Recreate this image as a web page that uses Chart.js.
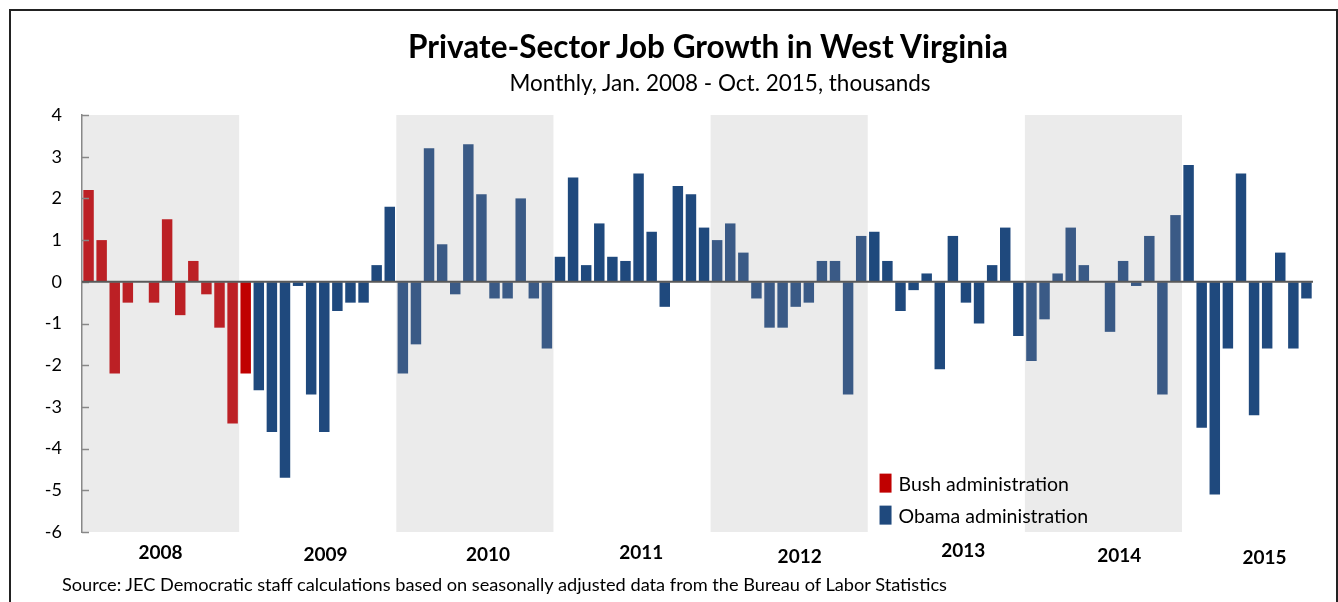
<!DOCTYPE html>
<html>
<head>
<meta charset="utf-8">
<script src="https://cdn.jsdelivr.net/npm/chart.js@4"></script>
<style>
  body { margin: 0; background: #fff; }
  #wrap { position: relative; width: 1338px; height: 602px; overflow: hidden; font-family: Lato, sans-serif; color: #000; }
  #frame { position: absolute; left: 9px; top: 9px; width: 1325px; height: 620px; border: 2px solid #222; }
  canvas { position: absolute; left: 0; top: 0; }
  .txt { position: absolute; white-space: nowrap; }
  #title { left: 308px; width: 800px; top: 27px; text-align: center; font-weight: bold; font-size: 31.5px; }
  #subtitle { left: 420px; width: 600px; top: 69px; text-align: center; font-size: 22.5px; }
  #source { left: 62px; top: 573px; font-size: 18.2px; }
</style>
</head>
<body>
<div id="wrap">
  <div id="frame"></div>
  <canvas id="grafico" width="1338" height="602"></canvas>
  <div class="txt" id="title">Private-Sector Job Growth in West Virginia</div>
  <div class="txt" id="subtitle">Monthly, Jan. 2008 - Oct. 2015, thousands</div>
  <div class="txt" id="source">Source: JEC Democratic staff calculations based on seasonally adjusted data from the Bureau of Labor Statistics</div>
</div>
<script>
// monthly change in private-sector jobs, thousands
const y2008 = [2.2, 1.0, -2.2, -0.5, 0, -0.5, 1.5, -0.8, 0.5, -0.3, -1.1, -3.4];
const y2009 = [-2.2, -2.6, -3.6, -4.7, -0.1, -2.7, -3.6, -0.7, -0.5, -0.5, 0.4, 1.8];
const y2010 = [-2.2, -1.5, 3.2, 0.9, -0.3, 3.3, 2.1, -0.4, -0.4, 2.0, -0.4, -1.6];
const y2011 = [0.6, 2.5, 0.4, 1.4, 0.6, 0.5, 2.6, 1.2, -0.6, 2.3, 2.1, 1.3];
const y2012 = [1.0, 1.4, 0.7, -0.4, -1.1, -1.1, -0.6, -0.5, 0.5, 0.5, -2.7, 1.1];
const y2013 = [1.2, 0.5, -0.7, -0.2, 0.2, -2.1, 1.1, -0.5, -1.0, 0.4, 1.3, -1.3];
const y2014 = [-1.9, -0.9, 0.2, 1.3, 0.4, 0, -1.2, 0.5, -0.1, 1.1, -2.7, 1.6];
const y2015 = [2.8, -3.5, -5.1, -1.6, 2.6, -3.2, -1.6, 0.7, -1.6, -0.4];

const years = ['2008', '2009', '2010', '2011', '2012', '2013', '2014', '2015'];
const monthNames = ['Jan', 'Feb', 'Mar', 'Apr', 'May', 'Jun', 'Jul', 'Aug', 'Sep', 'Oct', 'Nov', 'Dec'];
const shadedYears = ['2008', '2010', '2012', '2014'];
const bushMonths = 13; // Jan 2008 - Jan 2009
const yTicks = [4, 3, 2, 1, 0, -1, -2, -3, -4, -5, -6];

const porAno = [y2008, y2009, y2010, y2011, y2012, y2013, y2014, y2015];
const valores = [].concat(...porAno);
const labels = [];
porAno.forEach((arr, a) => arr.forEach((v, m) => labels.push(monthNames[m] + ' ' + years[a])));

const bushData = valores.map((v, i) => i < bushMonths ? v : null);
const obamaData = valores.map((v, i) => i >= bushMonths ? v : null);

// where the year labels sit (month index) and their small vertical offsets
const yearLabelAt = [5.5, 18.1, 30.5, 42.2, 54.3, 66.8, 78.7, 89.8];
const yearLabelY = [553, 555, 555, 553, 557, 551, 556, 558];

const corVermelho = '#c00000';
const corAzul = '#1f497d';

function corBarra(ctx) {
    const i = ctx.dataIndex;
    if (i < bushMonths) return i < 12 ? '#bc2025' : corVermelho;
    const ano = years[Math.floor(i / 12)];
    return shadedYears.includes(ano) ? '#3a5a86' : corAzul;
}

const decor = {
    id: 'decor',
    beforeDraw(chart) {
        const { ctx, chartArea, scales: { x } } = chart;
        ctx.save();
        ctx.fillStyle = '#ebebeb';
        shadedYears.forEach(ano => {
            const i0 = years.indexOf(ano) * 12;
            const i1 = Math.min(i0 + 11, labels.length - 1);
            const l = x.getPixelForValue(i0 - 0.5);
            const r = x.getPixelForValue(i1 + 0.5);
            ctx.fillRect(l, chartArea.top, r - l, chartArea.bottom - chartArea.top);
        });
        ctx.restore();
    },
    afterDatasetsDraw(chart) {
        const { ctx, chartArea, scales: { y } } = chart;
        ctx.save();
        // tick marks pointing into the plot
        ctx.strokeStyle = '#888';
        ctx.lineWidth = 1.5;
        yTicks.forEach(t => {
            const py = Math.round(y.getPixelForValue(t)) + 0.5;
            ctx.beginPath();
            ctx.moveTo(chartArea.left, py);
            ctx.lineTo(chartArea.left + 7, py);
            ctx.stroke();
        });
        // zero line
        const y0 = y.getPixelForValue(0);
        ctx.strokeStyle = '#595959';
        ctx.lineWidth = 2;
        ctx.beginPath();
        ctx.moveTo(chartArea.left, y0);
        ctx.lineTo(chartArea.right, y0);
        ctx.stroke();
        ctx.restore();
    },
    afterDraw(chart) {
        const { ctx, scales: { x, y } } = chart;
        ctx.save();
        ctx.fillStyle = '#000';
        ctx.font = 'bold 19px Lato';
        ctx.textAlign = 'center';
        ctx.textBaseline = 'middle';
        years.forEach((ano, k) => {
            ctx.fillText(ano, x.getPixelForValue(yearLabelAt[k]), yearLabelY[k]);
        });
        // legend inside the plot
        const itens = chart.data.datasets.map(ds => ({ label: ds.label, cor: ds.legendColor }));
        ctx.textAlign = 'left';
        ctx.textBaseline = 'alphabetic';
        ctx.font = '19.5px Lato';
        const lx = x.getPixelForValue(60.4);
        itens.forEach((it, k) => {
            const top = y.getPixelForValue(-4.6) + k * 32;
            ctx.fillStyle = it.cor;
            ctx.fillRect(lx, top, 12, 19);
            ctx.fillStyle = '#000';
            ctx.fillText(it.label, lx + 19, top + 17);
        });
        ctx.restore();
    }
};

Chart.defaults.font.family = 'Lato';
Chart.defaults.color = '#000';

new Chart(document.getElementById('grafico'), {
    type: 'bar',
    data: {
        labels: labels,
        datasets: [
            {
                label: 'Bush administration',
                data: bushData,
                backgroundColor: corBarra,
                legendColor: corVermelho,
                grouped: false,
                barPercentage: 0.8,
                categoryPercentage: 1
            },
            {
                label: 'Obama administration',
                data: obamaData,
                backgroundColor: corBarra,
                legendColor: corAzul,
                grouped: false,
                barPercentage: 0.8,
                categoryPercentage: 1
            }
        ]
    },
    options: {
        responsive: false,
        animation: false,
        layout: { padding: { left: 0, right: 25, top: 115, bottom: 70 } },
        plugins: {
            legend: { display: false },
            tooltip: { enabled: false }
        },
        scales: {
            x: { display: false },
            y: {
                min: -6,
                max: 4,
                afterFit(scale) { scale.width = 82; },
                ticks: { stepSize: 1, padding: 20, font: { size: 18 }, color: '#000' },
                grid: { drawOnChartArea: false, drawTicks: false },
                border: { display: true, color: '#888', width: 1.5 }
            }
        }
    },
    plugins: [decor]
});
</script>
</body>
</html>
